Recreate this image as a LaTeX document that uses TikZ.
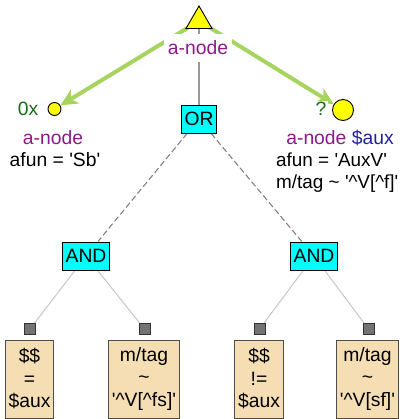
\documentclass[tikz,border=0pt]{standalone}
\usepackage{fontspec}
\setmainfont{Liberation Sans}
\usepackage{xcolor}
\usepackage{tikz}
\usetikzlibrary{shapes.geometric,arrows.meta,positioning,backgrounds,calc}

\definecolor{nodepurple}{RGB}{139,26,139}
\definecolor{auxblue}{RGB}{34,34,160}
\definecolor{lblgreen}{RGB}{22,108,22}
\definecolor{arrowgreen}{RGB}{166,212,94}
\definecolor{wheatfill}{RGB}{245,222,179}
\definecolor{dashgray}{RGB}{140,125,125}
\definecolor{opcyan}{RGB}{0,255,255}
\definecolor{nodeyellow}{RGB}{255,255,0}
\newcommand{\sq}{\textquotesingle}

\begin{document}
\begin{tikzpicture}[x=1pt, y=-1pt,
  every node/.style={font=\fontsize{19.3}{22.5}\selectfont},
  topnode/.style={regular polygon, regular polygon sides=3, draw=black,
                  fill=nodeyellow, minimum size=30pt, inner sep=0pt, line width=0.9pt},
  anode/.style={circle, draw=black, fill=nodeyellow, inner sep=0pt, line width=0.9pt},
  opbox/.style={rectangle, draw=black, fill=opcyan, minimum height=28pt,
                inner xsep=3pt, line width=0.9pt},
  condbox/.style={rectangle, draw=black!70, fill=wheatfill, minimum height=78pt,
                  align=center, inner xsep=3.5pt, line width=1pt},
  stub/.style={rectangle, draw=black!80, fill=black!55, minimum size=11pt,
               inner sep=0pt, line width=0.8pt},
  nname/.style={text=nodepurple, anchor=base},
  attr/.style={text=black, anchor=base},
  order/.style={text=lblgreen, anchor=base, fill=white, inner sep=2pt},
  arrow/.style={-{Stealth[length=17pt,width=16pt,inset=5pt]}, line width=4pt, arrowgreen},
  treeline/.style={draw=black!40, line width=1.2pt},
  orline/.style={draw=dashgray, line width=1.1pt, dash pattern=on 6pt off 3pt},
  andline/.style={draw=black!22, line width=1pt}
]
\useasboundingbox (0,0) rectangle (402,419);

\node[topnode] (top) at (199,21) {};
\node[nname, fill=white, inner xsep=4pt, inner ysep=7pt] (toplbl) at (198,55) {a-node};

\node[anode, minimum size=13pt] (sb) at (54.5,109) {};
\node[order] (sbord) at (28,116) {0x};
\node[nname] (sbname) at (53,145) {a-node};
\node[attr] (sbattr) at (55,167) {afun = \sq Sb\sq};

\node[anode, minimum size=21pt] (aux) at (343,110) {};
\node[order] (auxord) at (321,116) {?};
\node[nname] (auxname) at (340,145) {a-node \textcolor{auxblue}{\$aux}};
\node[attr, anchor=base west, align=left, inner xsep=0pt,
      font=\fontsize{18.9}{22}\selectfont] (auxattr) at (276,189)
  {afun = \sq AuxV\sq\\m/tag \textasciitilde{} \sq\textasciicircum V[\textasciicircum f]\sq};

\node[opbox, minimum width=34pt] (or) at (199,119) {OR};
\node[opbox] (andl) at (86,256) {AND};
\node[opbox] (andr) at (314,256) {AND};

\node[stub] (s1) at (30,329) {};
\node[stub] (s2) at (144.5,329) {};
\node[stub] (s3) at (259.5,329) {};
\node[stub] (s4) at (368.5,329) {};

\node[condbox] (c1) at (29.5,379) {\$\$\\=\\\$aux};
\node[condbox] (c2) at (144,379) {m/tag\\\textasciitilde\\\sq\textasciicircum V[\textasciicircum fs]\sq};
\node[condbox] (c3) at (259,379) {\$\$\\!=\\\$aux};
\node[condbox] (c4) at (367.5,379) {m/tag\\\textasciitilde\\\sq\textasciicircum V[sf]\sq};

\begin{scope}[on background layer]
\draw[treeline] (top) -- (or);
\draw[arrow] (top.center) -- (sb);
\draw[arrow] (top.center) -- (aux);
\draw[orline] (or) -- (andl);
\draw[orline] (or) -- (andr);
\draw[andline] (andl) -- (s1); \draw[andline] (andl) -- (s2);
\draw[andline] (andr) -- (s3); \draw[andline] (andr) -- (s4);
\end{scope}
\end{tikzpicture}
\end{document}
